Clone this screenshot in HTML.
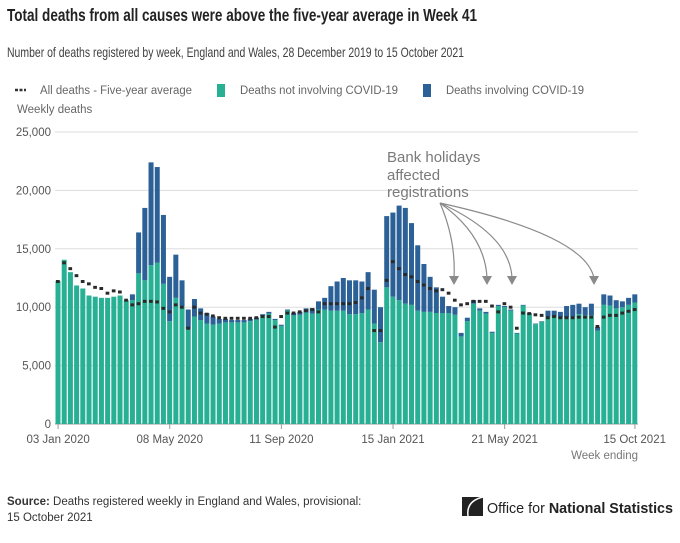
<!DOCTYPE html>
<html><head><meta charset="utf-8"><style>
html,body{margin:0;padding:0;background:#fff;}
svg{display:block;font-family:"Liberation Sans",sans-serif;}
</style></head><body>
<svg id="chart" width="680" height="543" viewBox="0 0 680 543">
<text x="7" y="21" font-size="17.5" font-weight="bold" fill="#222" textLength="470" lengthAdjust="spacingAndGlyphs">Total deaths from all causes were above the five-year average in Week 41</text>
<text x="7" y="57" font-size="14" fill="#414042" textLength="457" lengthAdjust="spacingAndGlyphs">Number of deaths registered by week, England and Wales, 28 December 2019 to 15 October 2021</text>
<g font-size="11.5" fill="#666">
<g><line x1="15" y1="90" x2="26" y2="90" stroke="#333" stroke-width="2.5" stroke-dasharray="3,1.5"/><text x="40" y="94" textLength="152" lengthAdjust="spacingAndGlyphs">All deaths - Five-year average</text></g>
<g><rect x="217" y="84" width="8" height="13" fill="#27b093"/><text x="240" y="94" textLength="158" lengthAdjust="spacingAndGlyphs">Deaths not involving COVID-19</text></g>
<g><rect x="423" y="84" width="8" height="13" fill="#2b6197"/><text x="446" y="94" textLength="138" lengthAdjust="spacingAndGlyphs">Deaths involving COVID-19</text></g>
</g>
<text x="17" y="113" font-size="11.5" fill="#666">Weekly deaths</text>
<g id="grid"></g><g id="bars"></g><g id="avg"></g><g id="xaxis"></g>
<g>
<text x="387" y="162" font-size="15" fill="#7a7a7a">Bank holidays</text>
<text x="387" y="180" font-size="15" fill="#7a7a7a">affected</text>
<text x="387" y="197" font-size="15" fill="#7a7a7a">registrations</text>
<g fill="none" stroke="#8a8a8a" stroke-width="1.2">
<path d="M440,203 Q456,240 454,278"/><path d="M440,203 Q485,235 487,278"/><path d="M440,203 Q510,235 512,278"/><path d="M440,203 Q585,235 594,278"/>
</g>
<g fill="#8a8a8a"><path d="M449,276 L459,276 L454,285Z"/><path d="M482,276 L492,276 L487,285Z"/><path d="M507,276 L517,276 L512,285Z"/><path d="M589,276 L599,276 L594,285Z"/></g>
</g>
<text x="638" y="459" font-size="11.5" fill="#777" text-anchor="end">Week ending</text>
<text x="7" y="505" font-size="11.5" fill="#333"><tspan font-weight="bold">Source:</tspan> Deaths registered weekly in England and Wales, provisional:</text>
<text x="7" y="521" font-size="11.5" fill="#333">15 October 2021</text>
<g>
<rect x="462" y="497" width="21" height="19" fill="#222"/>
<path d="M483,497 Q466,501 468,516" fill="none" stroke="#fff" stroke-width="1.5"/>
<text x="487" y="513" font-size="15" fill="#222" textLength="186" lengthAdjust="spacingAndGlyphs">Office for <tspan font-weight="bold">National Statistics</tspan></text>
</g>
</svg>
<script>
const totals=[12.26,14.06,13.0,11.86,11.6,11.0,10.9,10.8,10.8,10.9,11.0,10.6,11.1,16.4,18.5,22.4,22.0,17.9,12.6,14.5,12.3,9.8,10.7,9.9,9.5,9.2,9.0,9.0,8.9,8.9,8.9,9.0,9.1,9.4,9.6,9.0,8.5,9.8,9.5,9.6,9.9,9.9,10.5,10.8,11.8,12.2,12.5,12.3,12.3,12.2,13.0,11.5,10.0,17.8,18.1,18.7,18.5,17.2,15.3,13.7,12.6,11.7,10.9,10.1,10.0,7.8,9.1,10.6,9.9,9.6,7.9,10.2,10.1,9.8,7.8,10.2,9.5,8.6,8.8,9.7,9.7,9.6,10.1,10.2,10.3,10.0,10.3,8.3,11.1,11.0,10.6,10.5,10.8,11.1];
const nonCovid=[12.26,14.06,13.0,11.86,11.6,11.0,10.9,10.8,10.8,10.9,11.0,10.6,10.6,12.9,12.3,13.6,13.8,12.0,8.8,10.8,10.1,8.1,9.2,8.9,8.6,8.5,8.6,8.7,8.7,8.7,8.7,8.8,8.95,9.25,9.45,8.9,8.4,9.7,9.3,9.35,9.55,9.45,9.8,9.8,9.7,9.7,9.7,9.4,9.4,9.5,9.8,8.6,7.0,11.7,10.9,10.6,10.3,10.2,9.7,9.6,9.6,9.5,9.5,9.5,9.35,7.5,8.8,10.3,9.7,9.45,7.8,10.1,10.0,9.7,7.75,10.15,9.45,8.55,8.75,9.2,9.2,9.1,9.1,9.2,9.4,9.3,9.3,8.0,10.2,10.15,9.9,10.0,10.2,10.4];
const average=[12.2,13.8,13.3,12.7,12.2,12.0,11.7,11.6,11.2,11.4,11.3,10.6,10.2,10.3,10.5,10.5,10.45,9.9,9.6,10.2,10.0,8.2,10.0,9.5,9.4,9.25,9.1,9.05,9.05,9.05,9.05,9.05,9.1,9.2,9.2,8.3,9.2,9.5,9.5,9.6,9.7,9.8,9.6,10.3,10.3,10.3,10.3,10.3,10.4,10.8,11.6,8.0,8.0,12.3,13.9,13.3,12.8,12.6,12.2,11.9,11.6,11.4,11.5,11.2,10.6,10.2,10.3,10.5,10.5,10.5,10.1,9.6,10.3,10.0,8.2,9.5,9.45,9.35,9.3,9.1,9.2,9.1,9.1,9.1,9.15,9.15,9.15,8.35,9.15,9.3,9.3,9.5,9.65,9.8];
const yTicks=[0,5000,10000,15000,20000,25000];
const xTickIdx=[0,18,36,54,72,93];
const xTickLabels=["03 Jan 2020","08 May 2020","11 Sep 2020","15 Jan 2021","21 May 2021","15 Oct 2021"];
const NS="http://www.w3.org/2000/svg";
const x0=55,x1=638,yb=424,yt=132;
const step=(x1-x0)/totals.length;
const X=i=>x0+i*step;
const Y=v=>yb-(v/25000)*(yb-yt);
function mk(tag,attrs,parent){const e=document.createElementNS(NS,tag);for(const k in attrs)e.setAttribute(k,attrs[k]);parent.appendChild(e);return e;}
const grid=document.getElementById('grid');
yTicks.forEach(t=>{
 const l=mk('line',{x1:x0,x2:x1,y1:Y(t),y2:Y(t),stroke:t===0?'#999':'#ddd','stroke-width':1},grid);
 
 
 const tx=mk('text',{x:51,y:Y(t)+4,'text-anchor':'end','font-size':11.5,fill:'#555'},grid);
 tx.textContent=t.toLocaleString('en-GB');
 
 
});
const bars=document.getElementById('bars');
totals.forEach((tot,i)=>{
 const nc=nonCovid[i]*1000,t=tot*1000;
 const g=mk('rect',{x:X(i)+0.5,y:Y(nc),width:step-1.2,height:yb-Y(nc),fill:'#27b093'},bars);
 
 
 if(t>nc){
  const b=mk('rect',{x:X(i)+0.5,y:Y(t),width:step-1.2,height:Y(nc)-Y(t),fill:'#2b6197'},bars);
  
  
 }
});
const avg=document.getElementById('avg');
average.forEach((a,i)=>{
 const d=mk('rect',{x:X(i)+1,y:Y(a*1000)-1.5,width:step-2.5,height:3,fill:'#2a2a2a'},avg);
 
 
});
const xa=document.getElementById('xaxis');
xTickIdx.forEach((idx,k)=>{
 const cx=X(idx)+step/2;
 const tk=mk('line',{x1:cx,x2:cx,y1:yb,y2:yb+5,stroke:'#999'},xa);
 
 
 const last=k===xTickIdx.length-1;
 const tx=mk('text',{x:last?666:cx,y:yb+19,'text-anchor':last?'end':'middle','font-size':11.5,fill:'#555'},xa);
 tx.textContent=xTickLabels[k];
 
 
});
</script>
</body></html>
